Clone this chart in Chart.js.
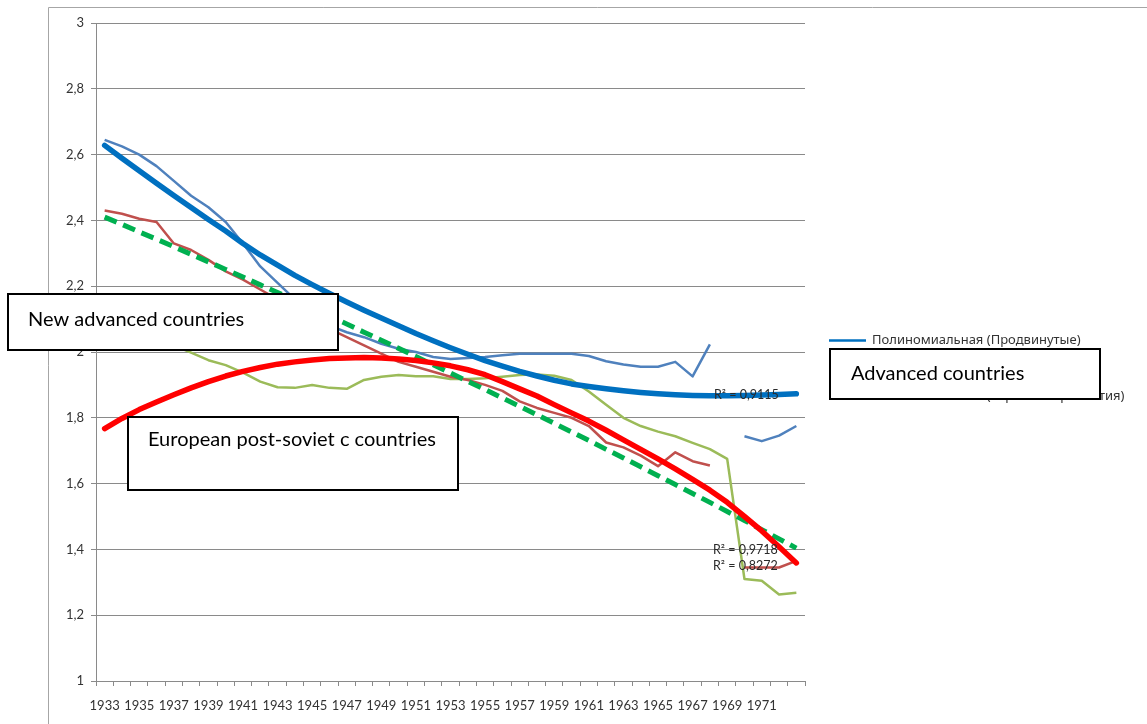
<!DOCTYPE html>
<html>
<head>
<meta charset="utf-8">
<script src="https://cdn.jsdelivr.net/npm/chart.js@4.4.1/dist/chart.umd.min.js"></script>
<style>
  html, body { margin: 0; padding: 0; background: #ffffff; }
  #wrap { width: 1147px; height: 724px; position: relative; }
</style>
</head>
<body>
<div id="wrap"><canvas id="c" width="1147" height="724"></canvas></div>
<script>
// ---------- DATA ----------
const years = [1933,1934,1935,1936,1937,1938,1939,1940,1941,1942,1943,1944,1945,1946,1947,1948,1949,1950,1951,1952,1953,1954,1955,1956,1957,1958,1959,1960,1961,1962,1963,1964,1965,1966,1967,1968,1969,1970,1971,1972,1973];

// Advanced countries (Продвинутые)
const advanced = [2.645,2.625,2.600,2.565,2.520,2.475,2.440,2.395,2.330,2.260,2.210,2.160,2.120,2.080,2.060,2.045,2.025,2.010,2.000,1.985,1.979,1.982,1.985,1.990,1.995,1.995,1.995,1.995,1.988,1.972,1.962,1.955,1.955,1.970,1.926,2.023,null,1.744,1.729,1.746,1.775];

// New advanced countries
const newAdvanced = [2.430,2.420,2.405,2.395,2.330,2.310,2.280,2.245,2.220,2.190,2.160,2.130,2.100,2.070,2.045,2.020,1.995,1.970,1.955,1.940,1.925,1.915,1.900,1.882,1.850,1.830,1.815,1.800,1.775,1.725,1.710,1.685,1.653,1.695,1.668,1.655,null,1.345,1.345,1.345,1.365];

// European post-soviet countries
const postSoviet = [2.100,2.080,2.060,2.040,2.020,1.998,1.975,1.960,1.937,1.910,1.893,1.891,1.900,1.891,1.888,1.915,1.925,1.930,1.926,1.926,1.918,1.918,1.920,1.925,1.930,1.932,1.928,1.915,1.880,1.840,1.800,1.775,1.758,1.744,1.724,1.705,1.675,1.310,1.305,1.263,1.268];

// Polynomial trend – advanced
const trendAdvanced = [2.628,2.589,2.551,2.513,2.476,2.439,2.403,2.368,2.330,2.295,2.264,2.233,2.205,2.178,2.152,2.127,2.103,2.080,2.056,2.034,2.013,1.993,1.974,1.957,1.941,1.927,1.914,1.903,1.895,1.888,1.882,1.877,1.873,1.870,1.868,1.867,1.867,1.868,1.869,1.871,1.873];

// Polynomial trend – new advanced (dashed green)
const trendNewAdvanced = [2.410,2.388,2.365,2.343,2.320,2.297,2.274,2.251,2.228,2.204,2.181,2.157,2.133,2.109,2.085,2.060,2.036,2.011,1.986,1.961,1.936,1.911,1.886,1.860,1.835,1.809,1.783,1.757,1.731,1.704,1.678,1.651,1.624,1.597,1.570,1.543,1.515,1.488,1.460,1.432,1.404];

// Polynomial trend – post-soviet (red)
const trendPostSoviet = [1.767,1.798,1.825,1.848,1.870,1.891,1.910,1.927,1.941,1.953,1.963,1.970,1.976,1.980,1.982,1.983,1.982,1.979,1.974,1.967,1.958,1.946,1.931,1.910,1.888,1.866,1.840,1.815,1.790,1.762,1.733,1.704,1.675,1.645,1.613,1.580,1.543,1.500,1.456,1.408,1.359];

const yTicks = [1,1.2,1.4,1.6,1.8,2,2.2,2.4,2.6,2.8,3];

const legendLabels = ['Полиномиальная (Продвинутые)', 'Полиномиальная (Новые страны)', 'Полиномиальная (Европа и Прибалтия)'];
const r2Labels = ['R² = 0,9115', 'R² = 0,9718', 'R² = 0,8272'];
const boxTexts = ['New advanced countries', 'European post-soviet c countries', 'Advanced countries'];

// ---------- STYLE ----------
const C_BLUE = '#4F81BD', C_RED = '#C0504D', C_GREEN = '#9BBB59';
const C_TBLUE = '#0070C0', C_TRED = '#FF0000', C_TGREEN = '#00B050';
const GRID = '#8A8A8A';
const FONT = 'Lato, "Open Sans", sans-serif';

Chart.defaults.font.family = FONT;

const fmt = v => String(Math.round(v * 10) / 10).replace('.', ',');

const overlay = {
  id: 'overlay',
  beforeDraw(chart) {
    const ctx = chart.ctx;
    ctx.save();
    ctx.fillStyle = '#fff';
    ctx.fillRect(0, 0, chart.width, chart.height);
    ctx.strokeStyle = '#A6A6A6';
    ctx.lineWidth = 1;
    ctx.beginPath();
    ctx.moveTo(48.5, 724);
    ctx.lineTo(48.5, 7.5);
    ctx.lineTo(1147, 7.5);
    ctx.stroke();
    ctx.restore();
  },
  afterDraw(chart) {
    const ctx = chart.ctx;
    ctx.save();
    // legend
    const legColors = [C_TBLUE, C_TGREEN, C_TRED];
    const legY = [340, 368, 396];
    ctx.font = '13px "Noto Sans", sans-serif';
    ctx.textBaseline = 'middle';
    legendLabels.forEach((t, i) => {
      ctx.strokeStyle = legColors[i];
      ctx.lineWidth = 2.5;
      ctx.beginPath();
      ctx.moveTo(829, legY[i] + 0.5);
      ctx.lineTo(866, legY[i] + 0.5);
      ctx.stroke();
      ctx.fillStyle = '#333';
      ctx.fillText(t, 872, legY[i]);
    });
    // R² labels
    ctx.font = '12.5px ' + FONT;
    ctx.fillStyle = '#2a2a2a';
    ctx.textBaseline = 'middle';
    ctx.fillText(r2Labels[0], 714, 395);
    ctx.fillText(r2Labels[1], 713, 550);
    ctx.fillText(r2Labels[2], 713, 566);
    // text boxes
    const boxes = [
      {x: 8, y: 294, w: 330, h: 56, tx: 28, ty: 320, t: boxTexts[0]},
      {x: 128, y: 417, w: 330, h: 73, tx: 148, ty: 440, t: boxTexts[1]},
      {x: 830, y: 349, w: 270, h: 50, tx: 851, ty: 374, t: boxTexts[2]}
    ];
    boxes.forEach(b => {
      ctx.fillStyle = '#fff';
      ctx.fillRect(b.x, b.y, b.w, b.h);
      ctx.strokeStyle = '#000';
      ctx.lineWidth = 2;
      ctx.strokeRect(b.x, b.y, b.w, b.h);
      ctx.fillStyle = '#000';
      ctx.font = '20px ' + FONT;
      ctx.textBaseline = 'middle';
      ctx.fillText(b.t, b.tx, b.ty);
    });
    ctx.restore();
  }
};

new Chart(document.getElementById('c'), {
  type: 'line',
  data: {
    labels: years,
    datasets: [
      {label: 'Продвинутые', data: advanced, borderColor: C_BLUE, borderWidth: 2.5, order: 3},
      {label: 'Новые продвинутые', data: newAdvanced, borderColor: C_RED, borderWidth: 2.5, order: 3},
      {label: 'Европа/Прибалтия', data: postSoviet, borderColor: C_GREEN, borderWidth: 2.5, order: 3},
      {label: legendLabels[1], data: trendNewAdvanced, borderColor: C_TGREEN, borderWidth: 5, borderDash: [13, 7], order: 2},
      {label: legendLabels[0], data: trendAdvanced, borderColor: C_TBLUE, borderWidth: 5.5, borderCapStyle: 'round', order: 1},
      {label: legendLabels[2], data: trendPostSoviet, borderColor: C_TRED, borderWidth: 5.5, borderCapStyle: 'round', order: 0}
    ]
  },
  options: {
    responsive: false,
    animation: false,
    devicePixelRatio: 1,
    spanGaps: false,
    elements: {
      point: {radius: 0, hoverRadius: 0},
      line: {tension: 0, fill: false, borderJoinStyle: 'round'}
    },
    layout: {padding: {top: 23, right: 342, bottom: 0, left: 0}},
    plugins: {legend: {display: false}, tooltip: {enabled: false}},
    scales: {
      x: {
        type: 'category',
        offset: true,
        afterFit: s => { s.height = 43; },
        grid: {display: true, drawOnChartArea: false, drawTicks: true, tickLength: 5, color: GRID, offset: true},
        border: {display: true, color: GRID, width: 1},
        ticks: {
          autoSkip: false, maxRotation: 0, minRotation: 0, padding: 12,
          color: '#333', font: {size: 13, family: FONT},
          callback: function(v, i) { return (i % 2 === 0 && i < years.length - 1) ? String(years[i]) : ''; }
        }
      },
      y: {
        min: yTicks[0], max: yTicks[yTicks.length - 1],
        afterFit: s => { s.width = 96; },
        afterBuildTicks: s => { s.ticks = yTicks.map(v => ({value: v})); },
        grid: {color: GRID, drawTicks: true, tickLength: 5, lineWidth: 1},
        border: {display: true, color: GRID, width: 1},
        ticks: {padding: 7, color: '#333', font: {size: 13, family: FONT}, callback: v => fmt(v)}
      }
    }
  },
  plugins: [overlay]
});
</script>
</body>
</html>
